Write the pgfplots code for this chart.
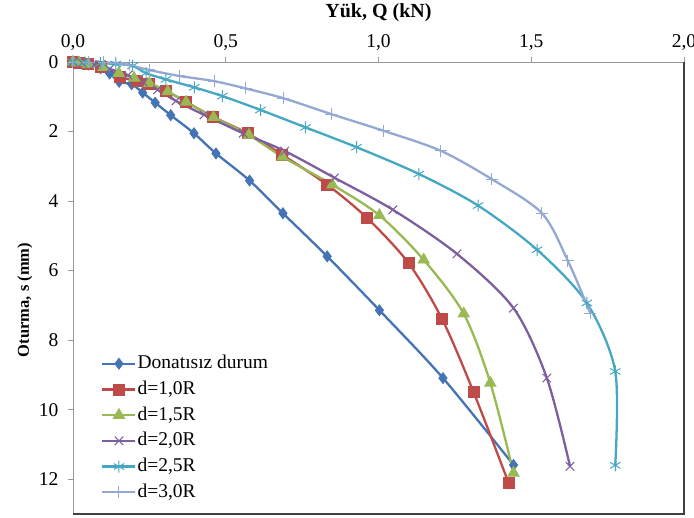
\documentclass[border=0pt]{standalone}
\usepackage{pgfplots}
\pgfplotsset{compat=1.18}
\usepackage{fontspec}
\setmainfont{Liberation Serif}

\definecolor{sBlue}{HTML}{4474B5}
\definecolor{sRed}{HTML}{BE4B48}
\definecolor{sGreen}{HTML}{98B954}
\definecolor{sPurple}{HTML}{7D5FA0}
\definecolor{sTeal}{HTML}{45A7C2}
\definecolor{sLight}{HTML}{93A9D3}

\begin{document}
\begin{tikzpicture}
\begin{axis}[
    scale only axis,
    width=611bp, height=452bp,
    xmin=0, xmax=2, ymin=0, ymax=13,
    y dir=reverse,
    xtick={0,0.5,1,1.5,2},
    ytick={0,2,4,6,8,10,12},
    xtick pos=right, xticklabel pos=right,
    ytick pos=left,
    tick align=outside,
    major tick length=5bp,
    axis line style={draw=gray!80, line width=0.8bp},
    tick style={draw=gray!80, line width=0.8bp},
    /pgf/number format/assume math mode=true,
    tick label style={font=\fontsize{19.5bp}{22bp}\selectfont},
    xticklabel style={/pgf/number format/use comma, /pgf/number format/fixed,
        /pgf/number format/fixed zerofill, /pgf/number format/precision=1, yshift=3bp},
    yticklabel style={xshift=-6bp},
    clip=false,
    legend cell align=left,
    legend style={draw=none, fill=none, inner sep=0pt,
        at={(0.046,0.355)}, anchor=north west,
        font=\fontsize{19.5bp}{22bp}\selectfont,
        row sep=5.7bp,
        nodes={inner sep=1bp, text height=14bp, text depth=4bp}},
    legend image code/.code={\draw[mark repeat=2,mark phase=2] plot coordinates {(0bp,0bp)(16.5bp,0bp)(33bp,0bp)};},
    every axis plot/.append style={line width=2.3bp, smooth},
]

% Donatisiz durum
\addplot[color=sBlue, mark=diamond*, mark size=5.5bp, mark options={solid, line width=0.8bp, fill=sBlue}]
coordinates {(0,0)(0.02,0.02)(0.05,0.07)(0.09,0.18)(0.12,0.33)(0.151,0.57)(0.192,0.64)(0.228,0.88)(0.269,1.17)(0.320,1.53)(0.396,2.05)(0.468,2.63)(0.578,3.41)(0.687,4.35)(0.832,5.59)(1.003,7.14)(1.211,9.09)(1.442,11.59)};
\addlegendentry{Donatısız durum}

% d=1,0R
\addplot[color=sRed, mark=square*, mark size=5.5bp, mark options={solid, line width=0.8bp, fill=sRed}]
coordinates {(0,0)(0.02,0.02)(0.05,0.06)(0.09,0.13)(0.152,0.42)(0.21,0.55)(0.25,0.62)(0.304,0.83)(0.369,1.14)(0.457,1.57)(0.571,2.05)(0.685,2.67)(0.832,3.53)(0.963,4.49)(1.098,5.78)(1.208,7.39)(1.311,9.49)(1.426,12.11)};
\addlegendentry{d=1,0R}

% d=1,5R
\addplot[color=sGreen, mark=triangle*, mark size=6.5bp, mark options={solid, line width=0.8bp, fill=sGreen}]
coordinates {(0,0)(0.02,0.02)(0.05,0.07)(0.1,0.15)(0.15,0.32)(0.2,0.46)(0.25,0.61)(0.31,0.85)(0.37,1.15)(0.46,1.59)(0.576,2.10)(0.686,2.73)(0.849,3.53)(1.003,4.41)(1.148,5.69)(1.279,7.24)(1.366,9.23)(1.442,11.82)};
\addlegendentry{d=1,5R}

% d=2,0R
\addplot[color=sPurple, mark=x, mark size=6bp, mark options={solid, line width=1bp}]
coordinates {(0,0)(0.03,0.03)(0.07,0.08)(0.12,0.2)(0.18,0.38)(0.23,0.58)(0.277,0.80)(0.337,1.12)(0.429,1.52)(0.557,2.05)(0.693,2.56)(0.856,3.33)(1.047,4.25)(1.257,5.52)(1.442,7.08)(1.551,9.09)(1.627,11.63)};
\addlegendentry{d=2,0R}

% d=2,5R
\addplot[color=sTeal, mark=asterisk, mark size=6bp, mark options={solid, line width=1bp}]
coordinates {(0,0)(0.04,0.01)(0.09,0.03)(0.14,0.06)(0.195,0.11)(0.239,0.32)(0.304,0.50)(0.397,0.73)(0.489,0.98)(0.614,1.38)(0.761,1.88)(0.928,2.45)(1.132,3.22)(1.326,4.13)(1.519,5.40)(1.682,6.93)(1.775,8.90)(1.775,11.60)};
\addlegendentry{d=2,5R}

% d=3,0R
\addplot[color=sLight, mark=+, mark size=6bp, mark options={solid, line width=1bp}]
coordinates {(0,0)(0.05,0)(0.1,0.01)(0.14,0.03)(0.184,0.09)(0.249,0.23)(0.347,0.40)(0.462,0.55)(0.565,0.76)(0.688,1.04)(0.846,1.50)(1.017,1.98)(1.203,2.55)(1.371,3.37)(1.535,4.35)(1.620,5.72)(1.693,7.22)};
\addlegendentry{d=3,0R}

\draw[gray!50!black, line width=1.5bp] (axis description cs:1,1) -- (axis description cs:1,0) -- (axis description cs:0,0);

\node[font=\bfseries\fontsize{20bp}{22bp}\selectfont] at ([yshift=49bp]axis description cs:0.5,1) {Yük, Q (kN)};
\node[font=\bfseries\fontsize{16.5bp}{18bp}\selectfont, rotate=90] at ([shift={(-48bp,-12bp)}]axis description cs:0,0.5) {Oturma, s (mm)};

\coordinate (ll) at (axis description cs:0,0);
\coordinate (ur) at (axis description cs:1,1);
\end{axis}
\pgfresetboundingbox
\path[use as bounding box] ([shift={(-73bp,-4bp)}]ll) rectangle ([shift={(10bp,62bp)}]ur);
\end{tikzpicture}
\end{document}
